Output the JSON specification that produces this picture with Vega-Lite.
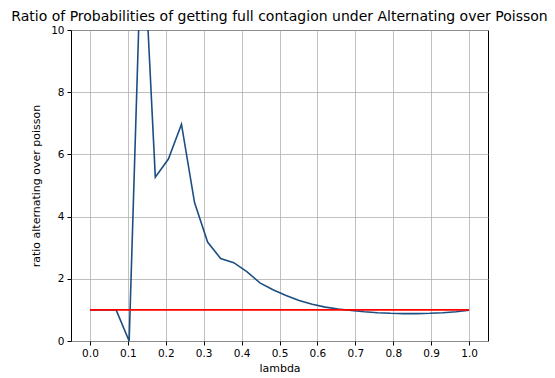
{
  "$schema": "https://vega.github.io/schema/vega-lite/v6.json",
  "autosize": {"type": "none"},
  "width": 417,
  "height": 311,
  "padding": {"left": 71, "top": 30, "right": 67, "bottom": 37},
  "background": "white",
  "title": {"text": "Ratio of Probabilities of getting full contagion under Alternating over Poisson", "font": "DejaVu Sans", "fontSize": 14, "fontWeight": "normal", "color": "black", "anchor": "middle", "baseline": "bottom", "offset": 3, "dy": 16},
  "config": {
    "view": {"stroke": "black", "strokeWidth": 1},
    "axis": {"labelFont": "DejaVu Sans", "labelFontSize": 10.5, "labelColor": "black", "titleFont": "DejaVu Sans", "titleFontSize": 11, "titleFontWeight": "normal", "titleColor": "black", "gridColor": "#b0b0b0", "gridWidth": 0.8, "tickColor": "black", "tickSize": 4, "domain": false, "labelPadding": 3}
  },
  "datasets": {
    "ratio": [
      {"lambda": 0.0, "ratio": 1.0},
      {"lambda": 0.0345, "ratio": 1.0},
      {"lambda": 0.069, "ratio": 1.0},
      {"lambda": 0.1034, "ratio": 0.0},
      {"lambda": 0.1379, "ratio": 13.8},
      {"lambda": 0.1724, "ratio": 5.27},
      {"lambda": 0.2069, "ratio": 5.85},
      {"lambda": 0.2414, "ratio": 6.97},
      {"lambda": 0.2759, "ratio": 4.45},
      {"lambda": 0.3103, "ratio": 3.18},
      {"lambda": 0.3448, "ratio": 2.65},
      {"lambda": 0.3793, "ratio": 2.52},
      {"lambda": 0.4138, "ratio": 2.23},
      {"lambda": 0.4483, "ratio": 1.87},
      {"lambda": 0.4828, "ratio": 1.65},
      {"lambda": 0.5172, "ratio": 1.46},
      {"lambda": 0.5517, "ratio": 1.3},
      {"lambda": 0.5862, "ratio": 1.18},
      {"lambda": 0.6207, "ratio": 1.09},
      {"lambda": 0.6552, "ratio": 1.03},
      {"lambda": 0.6897, "ratio": 0.98},
      {"lambda": 0.7241, "ratio": 0.94},
      {"lambda": 0.7586, "ratio": 0.91},
      {"lambda": 0.7931, "ratio": 0.89},
      {"lambda": 0.8276, "ratio": 0.88},
      {"lambda": 0.8621, "ratio": 0.88},
      {"lambda": 0.8966, "ratio": 0.89},
      {"lambda": 0.931, "ratio": 0.91},
      {"lambda": 0.9655, "ratio": 0.94},
      {"lambda": 1.0, "ratio": 0.99}
    ],
    "baseline": [
      {"lambda": 0.0, "ratio": 1.0},
      {"lambda": 1.0, "ratio": 1.0}
    ]
  },
  "layer": [
    {
      "data": {"name": "ratio"},
      "mark": {"type": "line", "color": "#1c4e82", "strokeWidth": 1.6, "clip": true},
      "encoding": {
        "x": {"field": "lambda", "type": "quantitative", "scale": {"domain": [-0.05, 1.05], "nice": false, "zero": false}, "axis": {"title": "lambda", "values": [0, 0.1, 0.2, 0.3, 0.4, 0.5, 0.6, 0.7, 0.8, 0.9, 1.0], "format": ".1f", "titlePadding": 4}},
        "y": {"field": "ratio", "type": "quantitative", "scale": {"domain": [0, 10], "nice": false}, "axis": {"title": "ratio alternating over poisson", "values": [0, 2, 4, 6, 8, 10], "titlePadding": 9}}
      }
    },
    {
      "data": {"name": "baseline"},
      "mark": {"type": "line", "color": "red", "strokeWidth": 1.6},
      "encoding": {
        "x": {"field": "lambda", "type": "quantitative"},
        "y": {"field": "ratio", "type": "quantitative"}
      }
    }
  ]
}
